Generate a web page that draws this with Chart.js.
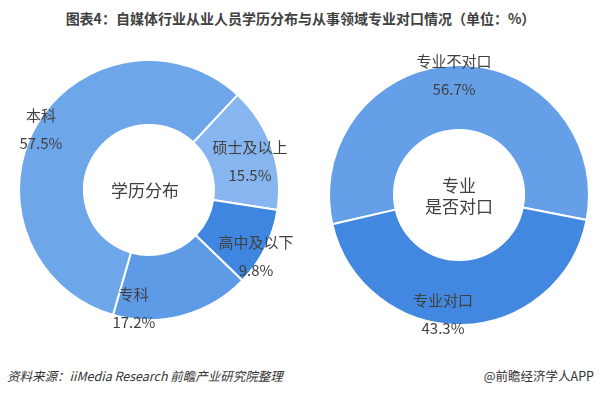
<!DOCTYPE html>
<html>
<head>
<meta charset="utf-8">
<script src="https://cdn.jsdelivr.net/npm/chart.js@4/dist/chart.umd.min.js"></script>
<style>
  html, body { margin: 0; padding: 0; background: #fff; }
  body { width: 601px; height: 393px; position: relative; overflow: hidden;
         font-family: 'Microsoft YaHei', 'Noto Sans CJK SC', sans-serif; color: #404040; }
  .title { position: absolute; left: 0; width: 601px; top: 8px; text-align: center;
           font-size: 14px; font-weight: bold; white-space: nowrap; }
  .src { position: absolute; left: 7px; top: 366px; font-size: 12.5px; font-style: italic; color: #333; }
  .brand { position: absolute; right: 7px; top: 366px; font-size: 12.5px; color: #333; }
  #edu { position: absolute; left: 0; top: 40px; }
  #match { position: absolute; left: 300px; top: 40px; }
</style>
</head>
<body>
<div class="title">图表4：自媒体行业从业人员学历分布与从事领域专业对口情况（单位：%）</div>
<canvas id="edu" width="300" height="310"></canvas>
<canvas id="match" width="301" height="310"></canvas>
<div class="src">资料来源：iiMedia Research 前瞻产业研究院整理</div>
<div class="brand">@前瞻经济学人APP</div>
<script>
/* data */
const eduLabels   = ['本科', '硕士及以上', '高中及以下', '专科'];
const eduValues   = [57.5, 15.5, 9.8, 17.2];
const matchLabels = ['专业不对口', '专业对口'];
const matchValues = [56.7, 43.3];

const FONT = "'Microsoft YaHei', 'Noto Sans CJK SC', sans-serif";
const TEXT = '#404040';

// slice labels: name + percent, placed at the arc's mid angle
const sliceLabels = {
  id: 'sliceLabels',
  afterDatasetsDraw(chart, args, opts) {
    const { ctx } = chart;
    const meta = chart.getDatasetMeta(0);
    ctx.save();
    ctx.fillStyle = TEXT;
    ctx.font = '15px ' + FONT;
    ctx.textAlign = 'center';
    ctx.textBaseline = 'middle';
    meta.data.forEach((arc, i) => {
      const mid = (arc.startAngle + arc.endAngle) / 2;
      const r = arc.outerRadius * opts.radius;
      const nudge = opts.nudge[i] || [0, 0];
      const x = arc.x + Math.cos(mid) * r + nudge[0];
      const y = arc.y + Math.sin(mid) * r + nudge[1];
      ctx.fillText(chart.data.labels[i], x, y - 14);
      ctx.fillText(chart.data.datasets[0].data[i].toFixed(1) + '%', x, y + 14);
    });
    // center text
    const a = meta.data[0];
    ctx.font = '17px ' + FONT;
    const lines = opts.center;
    lines.forEach((t, k) => {
      ctx.fillText(t, a.x + (opts.centerDx || 0), a.y + 1 + (k - (lines.length - 1) / 2) * 21);
    });
    ctx.restore();
  }
};

function donut(id, labels, data, colors, rotation, padding, labelOpts) {
  new Chart(document.getElementById(id), {
    type: 'doughnut',
    data: {
      labels,
      datasets: [{
        data,
        backgroundColor: colors,
        borderColor: '#fff',
        borderWidth: 2
      }]
    },
    options: {
      responsive: false,
      animation: false,
      cutout: '50%',
      rotation,
      layout: { padding },
      plugins: {
        legend: { display: false },
        tooltip: { enabled: false },
        sliceLabels: labelOpts
      }
    },
    plugins: [sliceLabels]
  });
}

donut('edu', eduLabels, eduValues,
  ['#6ea6ea', '#86b5ef', '#3e86e0', '#5d9be7'],
  -164,
  { left: 18, right: 20, top: 19, bottom: 29 },
  { radius: 0.92, nudge: [[-4, -2], [-12, 10], [0, 13], [-46, 3]], center: ['学历分布'], centerDx: -4 });

donut('match', matchLabels, matchValues,
  ['#649fe8', '#4288e0'],
  -103,
  { left: 28, right: 11, top: 24, bottom: 24 },
  { radius: 0.92, nudge: [[-3, 0], [-18, 0]], center: ['专业', '是否对口'] });
</script>
</body>
</html>
